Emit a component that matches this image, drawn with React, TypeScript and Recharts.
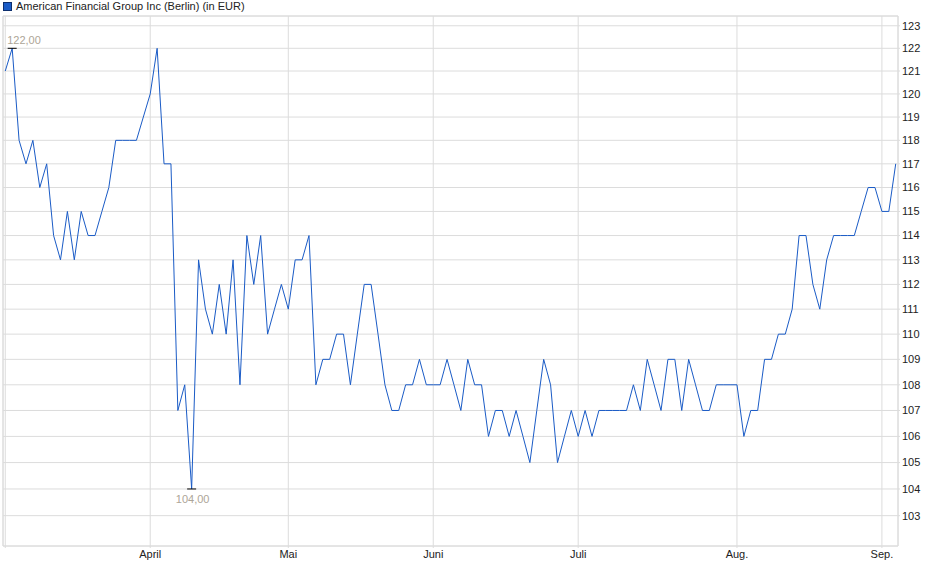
import {
  LineChart,
  Line,
  XAxis,
  YAxis,
  CartesianGrid,
  ReferenceLine,
  ReferenceDot,
} from "recharts"

// closing prices (EUR), one per trading day, Mar 3 – Sep 3 2025
const PRICES = [
  121, 122, 118, 117, 118, 116, 117, 114, 113, 115,
  113, 115, 114, 114, 115, 116, 118, 118, 118, 118,
  119, 120, 122, 117, 117, 107, 108, 104, 113, 111,
  110, 112, 110, 113, 108, 114, 112, 114, 110, 111,
  112, 111, 113, 113, 114, 108, 109, 109, 110, 110,
  108, 110, 112, 112, 110, 108, 107, 107, 108, 108,
  109, 108, 108, 108, 109, 108, 107, 109, 108, 108,
  106, 107, 107, 106, 107, 106, 105, 107, 109, 108,
  105, 106, 107, 106, 107, 106, 107, 107, 107, 107,
  107, 108, 107, 109, 108, 107, 109, 109, 107, 109,
  108, 107, 107, 108, 108, 108, 108, 106, 107, 107,
  109, 109, 110, 110, 111, 114, 114, 112, 111, 113,
  114, 114, 114, 114, 115, 116, 116, 115, 115, 117,
]

// index of first trading day of each month (0 = March, unlabelled)
const MONTH_TICKS = [0, 21, 41, 62, 83, 106, 127]
const MONTH_LABELS = ["", "April", "Mai", "Juni", "Juli", "Aug.", "Sep."]

const PRICE_TICKS = [
  103, 104, 105, 106, 107, 108, 109, 110, 111, 112, 113,
  114, 115, 116, 117, 118, 119, 120, 121, 122, 123,
]

const X_DOMAIN = [-0.33, 129.33]
const Y_DOMAIN = [101.874, 123.436]

const LINE_COLOR = "#1a5bc6"
const GRID_COLOR = "#dcdcdc"
const FONT = "'Liberation Sans', Arial, sans-serif"

const data = PRICES.map((p, i) => ({ i, price: p }))

const maxVal = Math.max(...PRICES)
const minVal = Math.min(...PRICES)
const maxIdx = PRICES.indexOf(maxVal)
const minIdx = PRICES.indexOf(minVal)

const fmt = (v: number) => v.toFixed(2).replace(".", ",")

function ExtremeMark(props: any) {
  const { cx, cy, kind, value } = props
  if (cx == null || cy == null) return null
  const isMax = kind === "max"
  return (
    <g>
      <line x1={cx - 4.5} x2={cx + 4.5} y1={cy} y2={cy} stroke="#000" strokeWidth={1} />
      <text
        x={isMax ? cx - 5 : cx + 1}
        y={isMax ? cy - 4.5 : cy + 14}
        textAnchor={isMax ? "start" : "middle"}
        fontSize={11}
        fontFamily={FONT}
        fill="#ada597"
      >
        {fmt(value)}
      </text>
    </g>
  )
}

export default function App() {
  return (
    <div style={{ position: "absolute", left: 0, top: 0, width: 940, height: 579, background: "#fff" }}>
      <div
        style={{
          position: "absolute",
          left: 3,
          top: 0,
          display: "flex",
          alignItems: "center",
          fontFamily: FONT,
          fontSize: 11,
          color: "#222",
          lineHeight: "13px",
        }}
      >
        <span
          style={{
            display: "inline-block",
            width: 7,
            height: 7,
            background: LINE_COLOR,
            border: "1px solid #0d2f6e",
            marginRight: 4,
          }}
        />
        American Financial Group Inc (Berlin) (in EUR)
      </div>
      <LineChart
        width={940}
        height={579}
        data={data}
        margin={{ top: 16, right: 0, left: 3, bottom: 3 }}
        style={{ fontFamily: FONT }}
      >
        <CartesianGrid stroke={GRID_COLOR} strokeWidth={1} />
        <XAxis
          dataKey="i"
          type="number"
          domain={X_DOMAIN}
          allowDataOverflow
          ticks={MONTH_TICKS}
          tickFormatter={(v: number) => MONTH_LABELS[MONTH_TICKS.indexOf(v)] ?? ""}
          height={30}
          tickSize={2}
          tickMargin={2}
          tickLine={{ stroke: GRID_COLOR }}
          axisLine={{ stroke: GRID_COLOR }}
          tick={{ fontSize: 11, fill: "#222", fontFamily: FONT }}
          interval={0}
        />
        <YAxis
          orientation="right"
          type="number"
          scale="log"
          domain={Y_DOMAIN}
          allowDataOverflow
          ticks={PRICE_TICKS}
          width={42}
          tickSize={2}
          tickMargin={2}
          tickLine={{ stroke: GRID_COLOR }}
          axisLine={{ stroke: GRID_COLOR }}
          tick={{ fontSize: 11, fill: "#222", fontFamily: FONT }}
          interval={0}
        />
        <ReferenceLine x={X_DOMAIN[0]} stroke={GRID_COLOR} />
        <ReferenceLine y={Y_DOMAIN[1]} stroke={GRID_COLOR} />
        <Line
          type="linear"
          dataKey="price"
          stroke={LINE_COLOR}
          strokeWidth={1}
          dot={false}
          activeDot={false}
          isAnimationActive={false}
        />
        <ReferenceDot
          x={maxIdx}
          y={maxVal}
          shape={(p: any) => <ExtremeMark {...p} kind="max" value={maxVal} />}
        />
        <ReferenceDot
          x={minIdx}
          y={minVal}
          shape={(p: any) => <ExtremeMark {...p} kind="min" value={minVal} />}
        />
      </LineChart>
    </div>
  )
}
